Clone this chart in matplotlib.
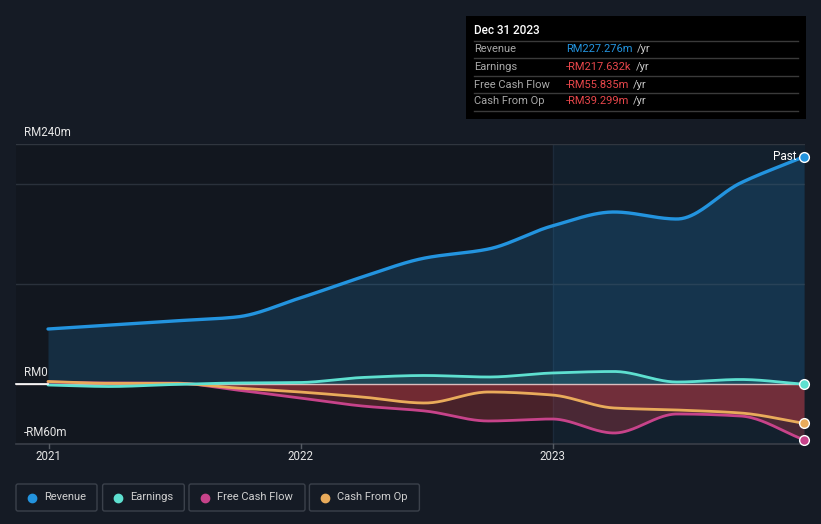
import numpy as np
import matplotlib
matplotlib.use("Agg")
import matplotlib.pyplot as plt
from matplotlib.patches import Rectangle, FancyBboxPatch
import pandas as pd

plt.rcParams['font.family'] = ['Roboto', 'DejaVu Sans']

# ---------------- data (RM millions, trailing twelve months) ----------------
dates = ["2020-12-31", "2021-03-31", "2021-06-30", "2021-09-30", "2021-12-31",
         "2022-03-31", "2022-06-30", "2022-09-30", "2022-12-31", "2023-03-31",
         "2023-06-30", "2023-09-30", "2023-12-31"]
revenue = [55, 59, 63, 67, 86, 107, 126, 135, 158, 172, 165, 201, 227.276]
earnings = [-1, -2.5, -0.5, 1, 1.5, 6.5, 8.5, 7, 11, 12.5, 2, 4.5, -0.218]
free_cash_flow = [2, 1, 1, -6, -14, -22, -27, -37, -35, -49, -30, -32, -55.835]
cash_from_op = [2.5, 0.7, 0.7, -4, -8, -13, -19, -8, -11, -24, -26, -29, -39.299]

series_names = ["Revenue", "Earnings", "Free Cash Flow", "Cash From Op"]
series_colors = ["#2394df", "#5ee0d0", "#c7438a", "#e9ab5b"]
y_tick_labels = {240: "RM240m", 0: "RM0", -60: "-RM60m"}
x_tick_years = [2021, 2022, 2023]
tooltip_title = "Dec 31 2023"
tooltip_values = ["RM227.276m", "-RM217.632k", "-RM55.835m", "-RM39.299m"]
tooltip_colors = ["#2394df", "#e8474b", "#e8474b", "#e8474b"]

# ---------------- helpers ----------------
def dec_year(s):
    d = pd.Timestamp(s)
    start = pd.Timestamp(year=d.year, month=1, day=1)
    end = pd.Timestamp(year=d.year + 1, month=1, day=1)
    return d.year + (d - start) / (end - start)

x = np.array([dec_year(d) for d in dates])


def monotone(xs, ys, n=40):
    xs = np.asarray(xs, float)
    ys = np.asarray(ys, float)
    h = np.diff(xs)
    d = np.diff(ys) / h
    m = np.zeros_like(ys)
    m[0] = d[0]
    m[-1] = d[-1]
    for i in range(1, len(xs) - 1):
        if d[i - 1] * d[i] <= 0:
            m[i] = 0.0
        else:
            h0, h1 = h[i - 1], h[i]
            m[i] = 3 * (h0 + h1) / ((2 * h1 + h0) / d[i - 1] + (h1 + 2 * h0) / d[i])
    X, Y = [], []
    for i in range(len(xs) - 1):
        t = np.linspace(0, 1, n, endpoint=(i == len(xs) - 2))
        hh = h[i]
        h00 = 2 * t**3 - 3 * t**2 + 1
        h10 = t**3 - 2 * t**2 + t
        h01 = -2 * t**3 + 3 * t**2
        h11 = t**3 - t**2
        X.append(xs[i] + t * hh)
        Y.append(h00 * ys[i] + h10 * hh * m[i] + h01 * ys[i + 1] + h11 * hh * m[i + 1])
    return np.concatenate(X), np.concatenate(Y)


W, H = 821, 524
fig = plt.figure(figsize=(W / 100, H / 100), dpi=100)
fig.patch.set_facecolor("#151b25")

L, R, T, B = 16, 805, 144, 444
ax = fig.add_axes([L / W, 1 - B / H, (R - L) / W, (B - T) / H])
ax.set_facecolor("#12171f")
x_left = 2021 - (48.7 - L) / 252.0
x_right = 2021 + (R - 48.7) / 252.0
ax.set_xlim(x_left, x_right)
ax.set_ylim(-60, 240)
for s in ax.spines.values():
    s.set_visible(False)
ax.set_xticks([])
ax.set_yticks([])

# highlighted "past" region
ax.axvspan(2023.0, x_right, color="#13202d", zorder=0, lw=0)
ax.axvline(2023.0, color="#1c2a3a", lw=1, zorder=0.5)

# grid
for gy in [200, 100]:
    ax.axhline(gy, color="#2a313b", lw=1, zorder=1)
ax.axhline(240, color="#30363f", lw=1, zorder=1)
ax.axhline(-60, color="#3a3f48", lw=1.2, zorder=1, clip_on=False)

data = [revenue, earnings, free_cash_flow, cash_from_op]
curves = [monotone(x, v) for v in data]

# fills
rx, ry = curves[0]
ax.fill_between(rx, 0, ry, color="#2394df", alpha=0.18, lw=0, zorder=2)
ex, ey = curves[1]
ax.fill_between(ex, 0, ey, where=ey >= 0, color="#5ee0d0", alpha=0.15, lw=0, zorder=2,
                interpolate=True)
for idx in [2, 3]:
    cx, cy = curves[idx]
    ax.fill_between(cx, 0, cy, where=cy <= 0, color="#d9404a", alpha=0.28, lw=0,
                    zorder=2, interpolate=True)

ax.axhline(0, color="#f3d6d6", lw=1, alpha=0.85, zorder=3)

# lines
lws = [2.4, 2.0, 2.0, 2.0]
order = [0, 2, 3, 1]
for idx in order:
    cx, cy = curves[idx]
    ax.plot(cx, cy, color=series_colors[idx], lw=lws[idx], zorder=4 + (idx == 1),
            solid_capstyle="round")
for idx in range(4):
    ax.plot([x[-1]], [data[idx][-1]], "o", ms=7, mfc=series_colors[idx], mec="white",
            mew=1.0, zorder=6, clip_on=False)

# ---------------- overlay in pixel coordinates ----------------
ov = fig.add_axes([0, 0, 1, 1])
ov.set_xlim(0, W)
ov.set_ylim(H, 0)
ov.axis("off")
ov.patch.set_alpha(0)

# zero line left extension
ov.plot([L, 48], [384, 384], color="white", lw=1.2, zorder=1)

# y labels
ypix = {240: 132, 0: 372, -60: 432}
for v, lab in y_tick_labels.items():
    ov.text(24, ypix[v], lab, color="#e6e6e6", fontsize=8.3, va="center", ha="left")

# x ticks & labels
for yr in x_tick_years:
    px = 48.7 + (yr - 2021) * 252.0
    ov.plot([px, px], [444, 448], color="#555b63", lw=1)
    ov.text(px, 457, str(yr), color="#e6e6e6", fontsize=8.3, ha="center", va="center")

# "Past" label
ov.text(797, 156, "Past", color="white", fontsize=8.5, ha="right", va="center")

# tooltip
ov.add_patch(Rectangle((466, 16), 340, 103, facecolor="black", edgecolor="none", zorder=5))
ov.text(474, 31, tooltip_title, color="white", fontsize=8.5, va="center", ha="left",
        zorder=6, fontweight="medium")
for sy in [41.3, 58.3, 76.3, 93.3, 111]:
    ov.plot([474, 798], [sy, sy], color="#3a3a3a", lw=1, zorder=6)
row_y = [49.5, 66.5, 84.5, 101.5]
val_texts = []
for name, yy, val, col in zip(series_names, row_y, tooltip_values, tooltip_colors):
    ov.text(474, yy, name, color="#a8a8a8", fontsize=8, va="center", ha="left", zorder=6)
    t = ov.text(566, yy, val, color=col, fontsize=8, va="center", ha="left", zorder=6)
    val_texts.append(t)

fig.canvas.draw()
renderer = fig.canvas.get_renderer()
inv = ov.transData.inverted()
for t, yy in zip(val_texts, row_y):
    bb = t.get_window_extent(renderer)
    xe = inv.transform((bb.x1, bb.y0))[0]
    ov.text(xe + 4, yy, "/yr", color="#c8c8c8", fontsize=8, va="center", ha="left", zorder=6)

# legend
boxes = [(16, 97), (102.6, 184.3), (189, 305), (309.4, 419.4)]
for (x0, x1), name, col in zip(boxes, series_names, series_colors):
    ov.add_patch(FancyBboxPatch((x0, 484), x1 - x0, 27,
                                boxstyle="round,pad=0,rounding_size=2",
                                facecolor="none", edgecolor="#3b414b", lw=1))
    ov.plot([x0 + 15.5], [497.5], "o", ms=6, color=col)
    ov.text(x0 + 28, 497.5, name, color="#d0d0d0", fontsize=8, va="center", ha="left")

fig.savefig("out.png", dpi=100, facecolor=fig.get_facecolor())
